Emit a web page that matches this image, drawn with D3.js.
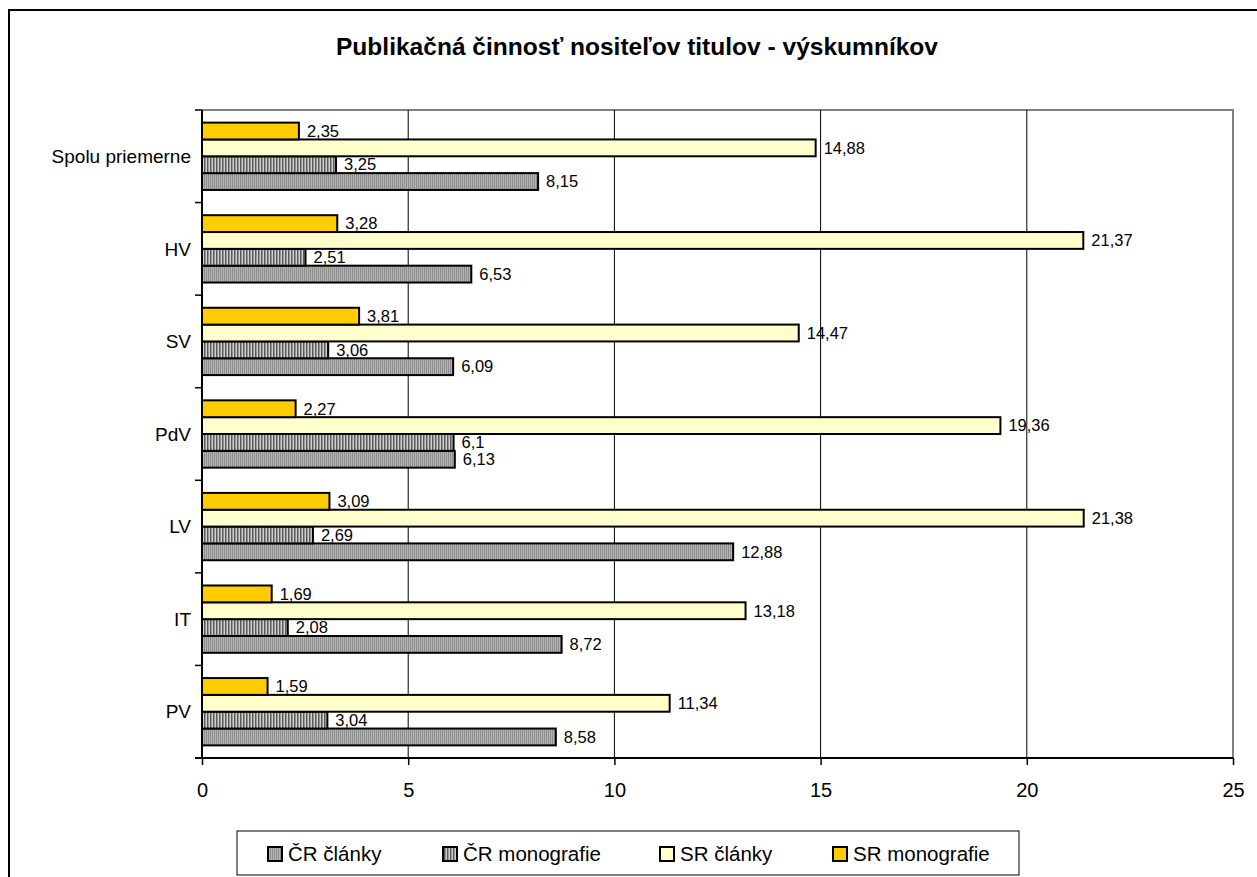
<!DOCTYPE html>
<html><head><meta charset="utf-8">
<script src="https://cdn.jsdelivr.net/npm/d3@7"></script>
<style>body{margin:0;background:#fff}svg{display:block;font-family:Arial,"Liberation Sans",sans-serif}</style>
</head><body><svg id="c" width="1257" height="877"></svg>
<script>
const categories = ["Spolu priemerne","HV","SV","PdV","LV","IT","PV"];
const seriesNames = ["ČR články","ČR monografie","SR články","SR monografie"];
const crClanky = [8.15,6.53,6.09,6.13,12.88,8.72,8.58];
const crMonografie = [3.25,2.51,3.06,6.1,2.69,2.08,3.04];
const srClanky = [14.88,21.37,14.47,19.36,21.38,13.18,11.34];
const srMonografie = [2.35,3.28,3.81,2.27,3.09,1.69,1.59];
const xTicks = [0,5,10,15,20,25];
const title = "Publikačná činnosť nositeľov titulov - výskumníkov";

const seriesVals = [crClanky, crMonografie, srClanky, srMonografie];
const fills = ["url(#pCl)","url(#pMo)","#FFFFCC","#FFCC00"];

const svg = d3.select("#c");
const defs = svg.append("defs");
const p1 = defs.append("pattern").attr("id","pCl").attr("patternUnits","userSpaceOnUse").attr("width",2).attr("height",4);
p1.append("rect").attr("width",2).attr("height",4).attr("fill","#b4b4b4");
p1.append("rect").attr("width",1).attr("height",4).attr("fill","#8e8e8e");
const p2 = defs.append("pattern").attr("id","pMo").attr("patternUnits","userSpaceOnUse").attr("width",3).attr("height",4);
p2.append("rect").attr("width",3).attr("height",4).attr("fill","#d0d0d0");
p2.append("rect").attr("width",1.5).attr("height",4).attr("fill","#5a5a5a");

// outer border
svg.append("rect").attr("x",9).attr("y",10).attr("width",1400).attr("height",1000)
  .attr("fill","none").attr("stroke","#000").attr("stroke-width",2);

svg.append("text").attr("x",637).attr("y",55).attr("text-anchor","middle")
  .attr("font-weight","bold").attr("font-size",24)
  .attr("textLength",602).attr("lengthAdjust","spacingAndGlyphs").text(title);

const L=202, R=1233, T=110, B=758;
const x = d3.scaleLinear().domain([0,25]).range([L,R]);
const y = d3.scaleBand().domain(categories).range([T,B]).paddingInner(1.5/5.5).paddingOuter(0.75/5.5);
const ySub = d3.scaleBand().domain([3,2,1,0]).range([0,y.bandwidth()]);

// plot border
svg.append("rect").attr("x",L).attr("y",T).attr("width",R-L).attr("height",B-T)
  .attr("fill","none").attr("stroke","#808080").attr("stroke-width",2);
// gridlines
svg.append("g").selectAll("line").data(xTicks.filter(d=>d>0&&d<25)).join("line")
  .attr("x1",d=>x(d)).attr("x2",d=>x(d)).attr("y1",T).attr("y2",B)
  .attr("stroke","#000").attr("stroke-width",1);

// bars
const step = (B-T)/categories.length;
categories.forEach((c,ci)=>{
  seriesVals.forEach((vals,si)=>{
    const v = vals[ci];
    const yy = y(c)+ySub(si);
    svg.append("rect").attr("x",x(0)).attr("y",yy).attr("width",x(v)-x(0)).attr("height",ySub.bandwidth())
      .attr("fill",fills[si]).attr("stroke","#000").attr("stroke-width",2);
    svg.append("text").attr("x",x(v)+8).attr("y",yy+ySub.bandwidth()/2).attr("dy","0.35em")
      .attr("font-size",16.5).text(String(v).replace(".",","));
  });
});

// x axis
const xa = svg.append("g").attr("transform",`translate(0,${B})`)
  .call(d3.axisBottom(x).tickValues(xTicks).tickSize(7).tickFormat(d=>d));
xa.select(".domain").attr("stroke","#000").attr("stroke-width",2).attr("d",`M${L-7},0H${R}`);
xa.selectAll(".tick line").attr("stroke","#000").attr("stroke-width",1.5);
xa.selectAll(".tick text").attr("font-size",20).attr("font-family","Arial,'Liberation Sans',sans-serif")
  .attr("fill","#000").attr("y",39).attr("dy",0);

// y axis line and ticks at boundaries
svg.append("line").attr("x1",L).attr("x2",L).attr("y1",T).attr("y2",B).attr("stroke","#000").attr("stroke-width",2);
d3.range(categories.length+1).forEach(i=>{
  svg.append("line").attr("x1",L-7).attr("x2",L).attr("y1",T+i*step).attr("y2",T+i*step).attr("stroke","#000").attr("stroke-width",1.5);
});
svg.append("g").selectAll("text").data(categories).join("text")
  .attr("x",191).attr("y",d=>y(d)+y.bandwidth()/2).attr("dy","0.35em").attr("text-anchor","end")
  .attr("font-size",19).text(d=>d);

// legend
svg.append("rect").attr("x",237).attr("y",831).attr("width",782).attr("height",44)
  .attr("fill","#fff").attr("stroke","#000").attr("stroke-width",1);
const legX = [268,443,660,833];
seriesNames.forEach((n,i)=>{
  svg.append("rect").attr("x",legX[i]).attr("y",847).attr("width",14).attr("height",14)
    .attr("fill",fills[i]).attr("stroke","#000").attr("stroke-width",2);
  svg.append("text").attr("x",legX[i]+20).attr("y",854).attr("dy","0.35em").attr("font-size",20.5).text(n);
});
</script></body></html>
